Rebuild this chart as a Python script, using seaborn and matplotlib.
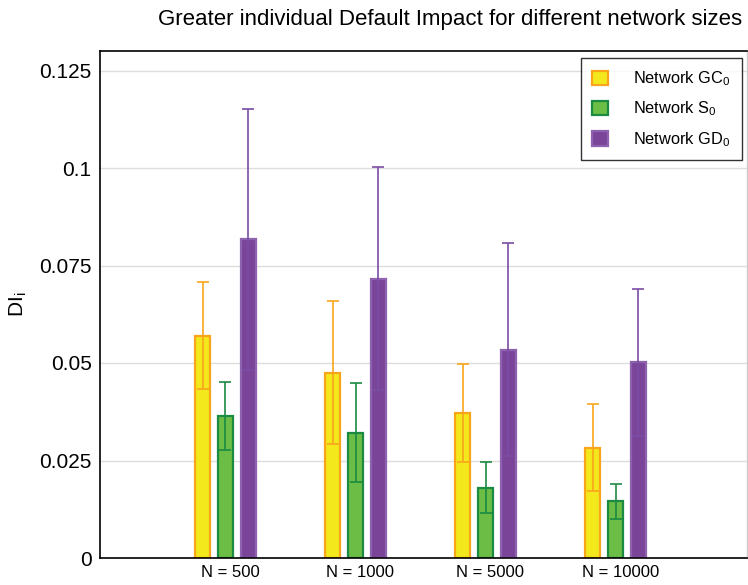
import numpy as np
import pandas as pd
import matplotlib
matplotlib.use("Agg")
import matplotlib.pyplot as plt
import seaborn as sns

# values (mean and half error bar)
sizes = ["N = 500", "N = 1000", "N = 5000", "N = 10000"]
networks = ["Network GC$_0$", "Network S$_0$", "Network GD$_0$"]
gc_mean = [0.0570, 0.0475, 0.0372, 0.0283]
gc_sd = [0.0137, 0.0183, 0.0126, 0.0112]
s_mean = [0.0365, 0.0321, 0.0180, 0.0145]
s_sd = [0.0087, 0.0127, 0.0065, 0.0046]
gd_mean = [0.0817, 0.0716, 0.0534, 0.0502]
gd_sd = [0.0334, 0.0286, 0.0273, 0.0189]

face = ["#F2E81C", "#6CBD45", "#7A4599"]
edge = ["#F9A51B", "#1B8A43", "#8E62AE"]
err_col = ["#F9A51B", "#1B8A43", "#7B4DA6"]

sns.set_style("white")
plt.rcParams["font.family"] = ["Liberation Sans", "DejaVu Sans"]
plt.rcParams["mathtext.fontset"] = "custom"
plt.rcParams["mathtext.rm"] = "Liberation Sans"
plt.rcParams["mathtext.default"] = "regular"
for k in ["text.color", "axes.labelcolor", "xtick.color", "ytick.color"]:
    plt.rcParams[k] = "black"

df = pd.DataFrame({
    "size": sizes * 3,
    "net": np.repeat(networks, len(sizes)),
    "val": gc_mean + s_mean + gd_mean,
    "sd": gc_sd + s_sd + gd_sd,
})

fig = plt.figure(figsize=(7.48, 5.85), dpi=100)
ax = fig.add_axes([100 / 748, 1 - 558 / 585, 647 / 748, 507 / 585])

sns.barplot(data=df, x="size", y="val", hue="net", hue_order=networks,
            order=sizes, palette=face, saturation=1, width=0.525, gap=0.34,
            errorbar=None, legend=False, ax=ax)

bars = list(ax.containers)
for i, cont in enumerate(bars):
    sub = df[df["net"] == networks[i]].set_index("size").loc[sizes]
    xs = []
    for p in cont.patches:
        p.set_edgecolor(edge[i])
        p.set_linewidth(1.6)
        xs.append(p.get_x() + p.get_width() / 2)
    ax.errorbar(xs, sub["val"], yerr=sub["sd"], fmt="none", ecolor=err_col[i],
                elinewidth=1.2, capsize=4.5, capthick=1.2, zorder=3)

ax.set_xlim(-0.965, 4.01)
ax.set_ylim(0, 0.13)
ax.set_yticks([0, 0.025, 0.05, 0.075, 0.1, 0.125])
ax.set_yticklabels(["0", "0.025", "0.05", "0.075", "0.1", "0.125"])
ax.set_xticks(np.arange(len(sizes)) + 0.035, sizes)
ax.tick_params(axis="y", length=0, pad=6, labelsize=15)
ax.tick_params(axis="x", length=0, pad=5, labelsize=12)
ax.yaxis.grid(True, color="#DDDDDD", linewidth=1)
ax.set_axisbelow(True)
ax.set_xlabel("")
ax.set_ylabel("DI$_i$", fontsize=15, labelpad=7)

for s in ["left", "bottom", "top"]:
    ax.spines[s].set_color("black")
    ax.spines[s].set_linewidth(1.2)
ax.spines["right"].set_color("#CCCCCC")
ax.spines["right"].set_linewidth(1)

leg = ax.legend(handles=bars, labels=networks, loc="upper right",
                bbox_to_anchor=(0.992, 0.986), fontsize=11.8, frameon=True,
                fancybox=False, edgecolor="black", handlelength=1.0,
                handleheight=1.0, handletextpad=1.5, labelspacing=0.7,
                borderpad=0.7, borderaxespad=0)
leg.get_frame().set_linewidth(1.0)

fig.text(450 / 748, 1 - 20 / 585, "Greater individual Default Impact for different network sizes",
         ha="center", va="center", fontsize=16)

fig.savefig("out.png", dpi=100)
